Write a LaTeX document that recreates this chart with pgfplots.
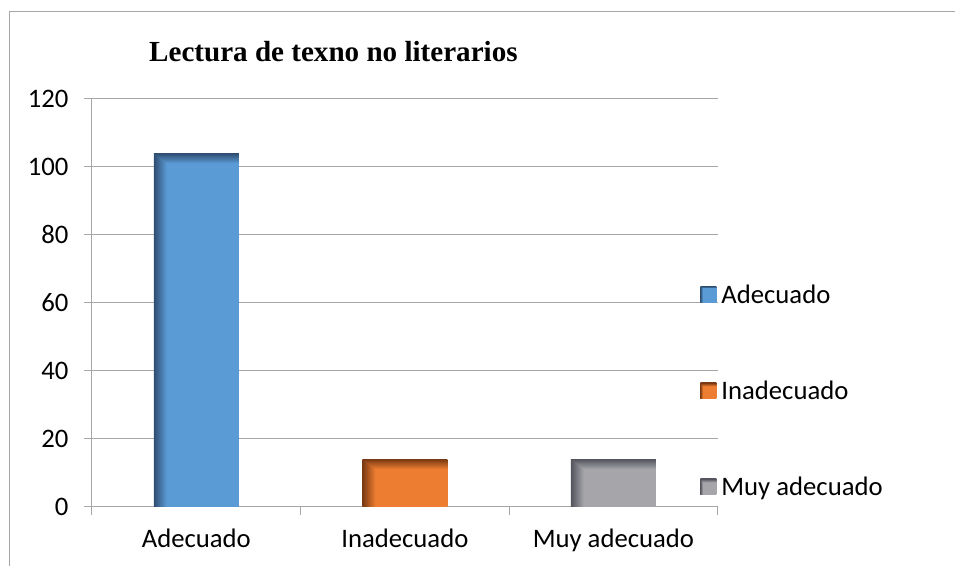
\documentclass[border=0pt]{standalone}
\usepackage{fontspec}
\setmainfont{Carlito}
\newfontfamily\titlefont{Liberation Serif}
\usepackage{pgfplots}
\pgfplotsset{compat=1.18}

\definecolor{azul}{HTML}{5B9BD5}
\definecolor{naranja}{HTML}{ED7D31}
\definecolor{gris}{HTML}{A5A5AA}
\definecolor{lineagris}{HTML}{A6A6A6}

% bar fill with a dark inner edge on the left and at the top
% (bar box = 25bp..75bp of the shading; t = min((x-25)/dx,(75-y)/dy) clamped to 0..1)
\pgfdeclarefunctionalshading{shA}{\pgfpointorigin}{\pgfpoint{100bp}{100bp}}{}{
  75 exch sub 1.4 div exch 25 sub 7.6 div
  2 copy gt {exch} if pop
  dup 1 gt {pop 1} if dup 0 lt {pop 0} if
  dup 0.177 mul 0.18 add exch dup 0.308 mul 0.30 add exch 0.395 mul 0.44 add
}
\pgfdeclarefunctionalshading{shB}{\pgfpointorigin}{\pgfpoint{100bp}{100bp}}{}{
  75 exch sub 10.4 div exch 25 sub 7.6 div
  2 copy gt {exch} if pop
  dup 1 gt {pop 1} if dup 0 lt {pop 0} if
  dup 0.459 mul 0.47 add exch dup 0.27 mul 0.22 add exch 0.122 mul 0.07 add
}
\pgfdeclarefunctionalshading{shC}{\pgfpointorigin}{\pgfpoint{100bp}{100bp}}{}{
  75 exch sub 10.4 div exch 25 sub 7.6 div
  2 copy gt {exch} if pop
  dup 1 gt {pop 1} if dup 0 lt {pop 0} if
  dup 0.317 mul 0.33 add exch dup 0.317 mul 0.33 add exch 0.297 mul 0.37 add
}

\begin{document}
\begin{tikzpicture}
\useasboundingbox (-92bp,-59.3bp) rectangle (863bp,506.7bp);
\draw[lineagris, line width=1bp] (-82bp,-62bp) -- (-82bp,494.7bp) -- (866bp,494.7bp);
\node[anchor=base west, inner sep=0pt, font=\titlefont\bfseries\fontsize{29.2}{34}\selectfont]
  at (57bp,444.7bp) {Lectura de texno no literarios};
\begin{axis}[
  scale only axis,
  width=625.7bp, height=407.7bp,
  xmin=-0.5, xmax=2.5,
  ymin=0, ymax=120,
  ytick={0,20,...,120},
  xtick={-0.5,0.5,1.5,2.5},
  xticklabels={},
  extra x ticks={0,1,2},
  extra x tick labels={Adecuado,Inadecuado,Muy adecuado},
  extra x tick style={major tick length=0pt, grid=none},
  axis x line=bottom, axis y line=left,
  axis line style={-, draw=lineagris, line width=1bp},
  ymajorgrids,
  grid style={lineagris, line width=1bp},
  tick align=outside,
  major tick length=8bp,
  tick style={lineagris, line width=1bp},
  ticklabel style={font=\fontsize{26.8}{32}\selectfont},
  xticklabel style={yshift=-19bp},
  yticklabel style={xshift=-12bp},
  /pgf/number format/assume math mode=true,
  bar width=85bp,
  legend cell align=left,
  legend style={at={(0.972,0.284)}, anchor=west, draw=none, fill=none,
    inner sep=0pt, row sep=72bp, font=\fontsize{26.8}{32}\selectfont,
    nodes={inner sep=2bp}},
]
\addplot[ybar, bar shift=0pt, draw=none, shading=shA, shade,
  legend image code/.code={\fill[azul!75!black] (0bp,-8bp) rectangle (16bp,8bp);
    \path (0bp,0bp) -- (19bp,0bp);}]
  coordinates {(0,104)};
\addlegendentry{Adecuado}
\addplot[ybar, bar shift=0pt, draw=none, shading=shB, shade,
  legend image code/.code={\fill[naranja!75!black] (0bp,-8bp) rectangle (16bp,8bp);
    \path (0bp,0bp) -- (19bp,0bp);}]
  coordinates {(1,14)};
\addlegendentry{Inadecuado}
\addplot[ybar, bar shift=0pt, draw=none, shading=shC, shade,
  legend image code/.code={\fill[gris!70!black] (0bp,-8bp) rectangle (16bp,8bp);
    \path (0bp,0bp) -- (19bp,0bp);}]
  coordinates {(2,14)};
\addlegendentry{Muy adecuado}
\end{axis}
\end{tikzpicture}
\end{document}
